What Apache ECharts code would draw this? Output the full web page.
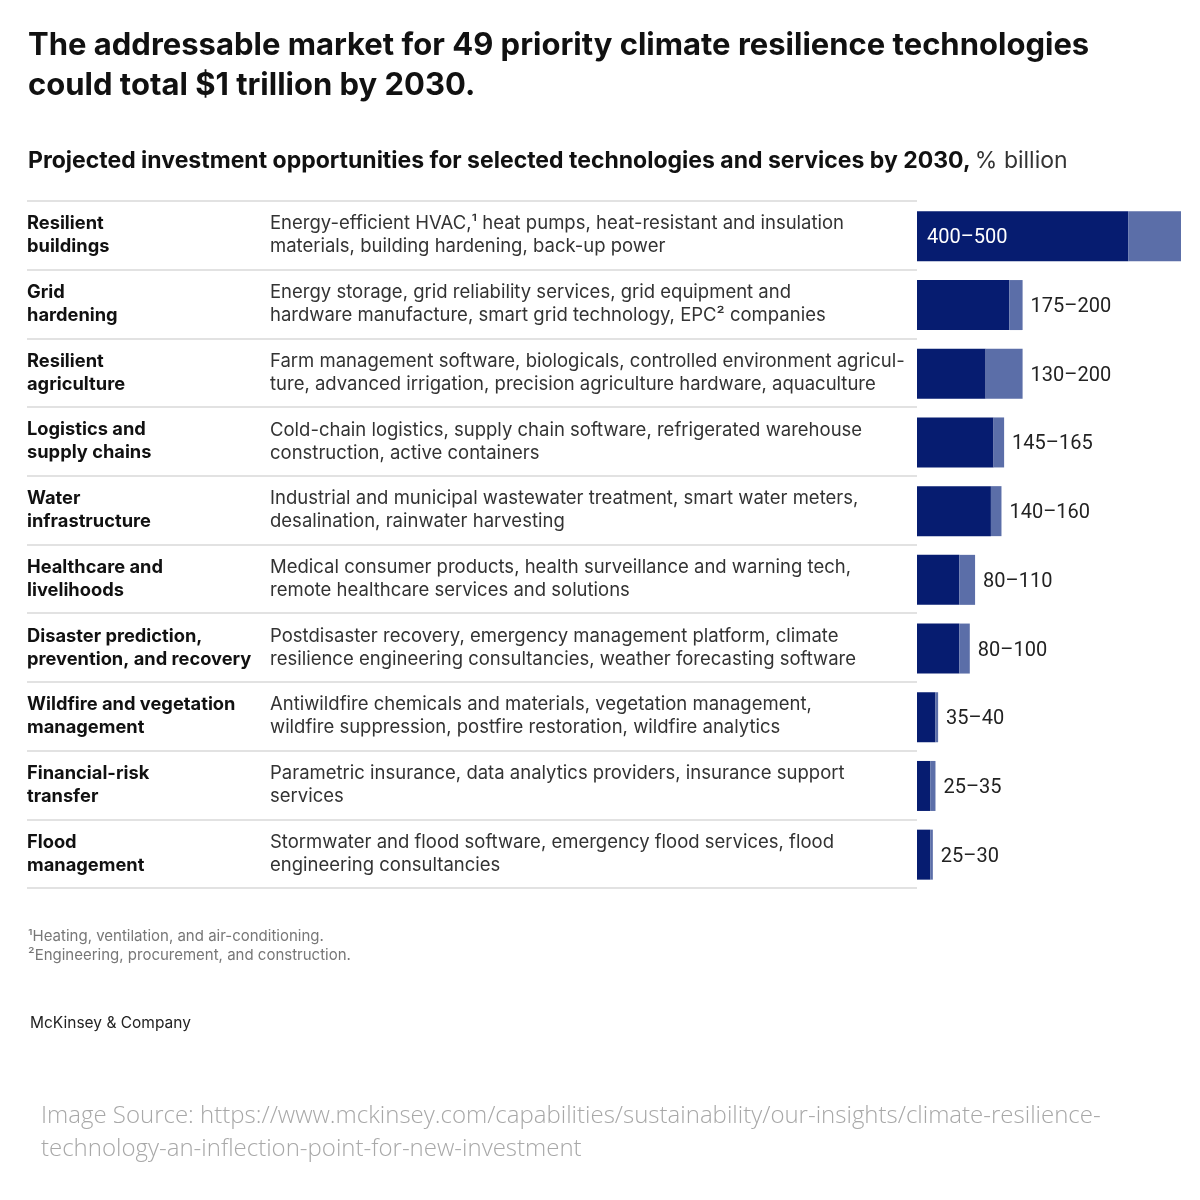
<!DOCTYPE html>
<html>
<head>
<meta charset="utf-8">
<script src="https://cdn.jsdelivr.net/npm/echarts@6/dist/echarts.min.js"></script>
<style>
  html, body { margin: 0; padding: 0; background: #fff; }
  #chart { width: 1200px; height: 1200px; }
</style>
</head>
<body>
<div id="chart"></div>
<script>
// Climate resilience tech — projected investment by 2030, $ billion

const sectors = [
  "Resilient\nbuildings",
  "Grid\nhardening",
  "Resilient\nagriculture",
  "Logistics and\nsupply chains",
  "Water\ninfrastructure",
  "Healthcare and\nlivelihoods",
  "Disaster prediction,\nprevention, and recovery",
  "Wildfire and vegetation\nmanagement",
  "Financial-risk\ntransfer",
  "Flood\nmanagement",
];

const technologies = [
  "Energy-efficient HVAC,¹ heat pumps, heat-resistant and insulation\nmaterials, building hardening, back-up power",
  "Energy storage, grid reliability services, grid equipment and\nhardware manufacture, smart grid technology, EPC² companies",
  "Farm management software, biologicals, controlled environment agricul-\nture, advanced irrigation, precision agriculture hardware, aquaculture",
  "Cold-chain logistics, supply chain software, refrigerated warehouse\nconstruction, active containers",
  "Industrial and municipal wastewater treatment, smart water meters,\ndesalination, rainwater harvesting",
  "Medical consumer products, health surveillance and warning tech,\nremote healthcare services and solutions",
  "Postdisaster recovery, emergency management platform, climate\nresilience engineering consultancies, weather forecasting software",
  "Antiwildfire chemicals and materials, vegetation management,\nwildfire suppression, postfire restoration, wildfire analytics",
  "Parametric insurance, data analytics providers, insurance support\nservices",
  "Stormwater and flood software, emergency flood services, flood\nengineering consultancies",
];

const rangeLow = [400, 175, 130, 145, 140, 80, 80, 35, 25, 25];
const rangeHigh = [500, 200, 200, 165, 160, 110, 100, 40, 35, 30];

const DARK = "#061c70";
const LIGHT = "#5b6ea8";
const FONT = "Inter";

const chart = echarts.init(document.getElementById("chart"));

const rangeLabel = (i) => `${rangeLow[i]}–${rangeHigh[i]}`;

chart.setOption({
  backgroundColor: "#fff",
  animation: false,
  textStyle: { fontFamily: FONT },
  title: [
    {
      text: "The addressable market for 49 priority climate resilience technologies\ncould total $1 trillion by 2030.",
      left: 28,
      top: 26,
      padding: 0,
      textStyle: { fontFamily: FONT, fontSize: 31, fontWeight: 700, color: "#111", lineHeight: 40 },
    },
    {
      text: "{b|Projected investment opportunities for selected technologies and services by 2030,} {n|% billion}",
      left: 28,
      top: 150,
      padding: 0,
      textStyle: {
        rich: {
          b: { fontFamily: FONT, fontSize: 23, fontWeight: 700, color: "#111" },
          n: { fontFamily: FONT, fontSize: 23, fontWeight: 400, color: "#333" },
        },
      },
    },
    {
      text: "¹Heating, ventilation, and air-conditioning.\n²Engineering, procurement, and construction.",
      left: 28,
      top: 927,
      padding: 0,
      textStyle: { fontFamily: FONT, fontSize: 15, fontWeight: 400, color: "#777", lineHeight: 19 },
    },
    {
      text: "McKinsey & Company",
      left: 30,
      top: 1015,
      padding: 0,
      textStyle: { fontFamily: FONT, fontSize: 15.5, fontWeight: 400, color: "#222" },
    },
    {
      text: "Image Source: https://www.mckinsey.com/capabilities/sustainability/our-insights/climate-resilience-\ntechnology-an-inflection-point-for-new-investment",
      left: 41,
      top: 1100,
      padding: 0,
      textStyle: { fontFamily: "Open Sans", fontSize: 24, fontWeight: 300, color: "#a8a8a8", lineHeight: 33 },
    },
  ],
  grid: [
    { left: 27, top: 201, width: 890, height: 687, outerBoundsMode: "none" },
    { left: 917, top: 202, width: 283, height: 687, outerBoundsMode: "none" },
  ],
  xAxis: [
    { gridIndex: 0, type: "value", min: 0, max: 1, show: false },
    { gridIndex: 1, type: "value", min: 0, max: 536, show: false },
  ],
  yAxis: [
    {
      gridIndex: 0,
      type: "category",
      position: "left",
      data: sectors,
      inverse: true,
      axisLine: { show: false },
      axisTick: { show: false },
      splitLine: { show: true, lineStyle: { color: "#d9d9d9", width: 1.5 } },
      axisLabel: {
        inside: true,
        margin: 0,
        align: "left",
        interval: 0,
        fontFamily: FONT,
        fontSize: 18.3,
        fontWeight: 700,
        color: "#111",
        lineHeight: 23,
      },
    },
    {
      gridIndex: 0,
      type: "category",
      position: "left",
      data: technologies,
      inverse: true,
      axisLine: { show: false },
      axisTick: { show: false },
      splitLine: { show: false },
      axisLabel: {
        inside: true,
        margin: 243,
        align: "left",
        interval: 0,
        fontFamily: FONT,
        fontSize: 18.5,
        fontWeight: 400,
        color: "#333",
        lineHeight: 23,
      },
    },
    {
      gridIndex: 1,
      type: "category",
      data: sectors,
      inverse: true,
      show: false,
    },
  ],
  series: [
    {
      name: "Low estimate",
      type: "bar",
      xAxisIndex: 1,
      yAxisIndex: 2,
      stack: "range",
      barWidth: 50,
      itemStyle: { color: DARK },
      data: rangeLow.map((v, i) => ({
        value: v,
        label: {
          show: i === 0,
          position: "insideLeft",
          distance: 10,
          offset: [0, 2],
          formatter: () => rangeLabel(i),
          color: "#fff",
          fontFamily: "Roboto",
          fontSize: 20,
        },
      })),
    },
    {
      name: "Range to high estimate",
      type: "bar",
      xAxisIndex: 1,
      yAxisIndex: 2,
      stack: "range",
      barWidth: 50,
      itemStyle: { color: LIGHT },
      data: rangeHigh.map((v, i) => ({
        value: v - rangeLow[i],
        label: {
          show: i !== 0,
          position: "right",
          distance: 8,
          offset: [0, 2],
          formatter: () => rangeLabel(i),
          color: "#222",
          fontFamily: "Roboto",
          fontSize: 20,
        },
      })),
    },
  ],
});
</script>
</body>
</html>
